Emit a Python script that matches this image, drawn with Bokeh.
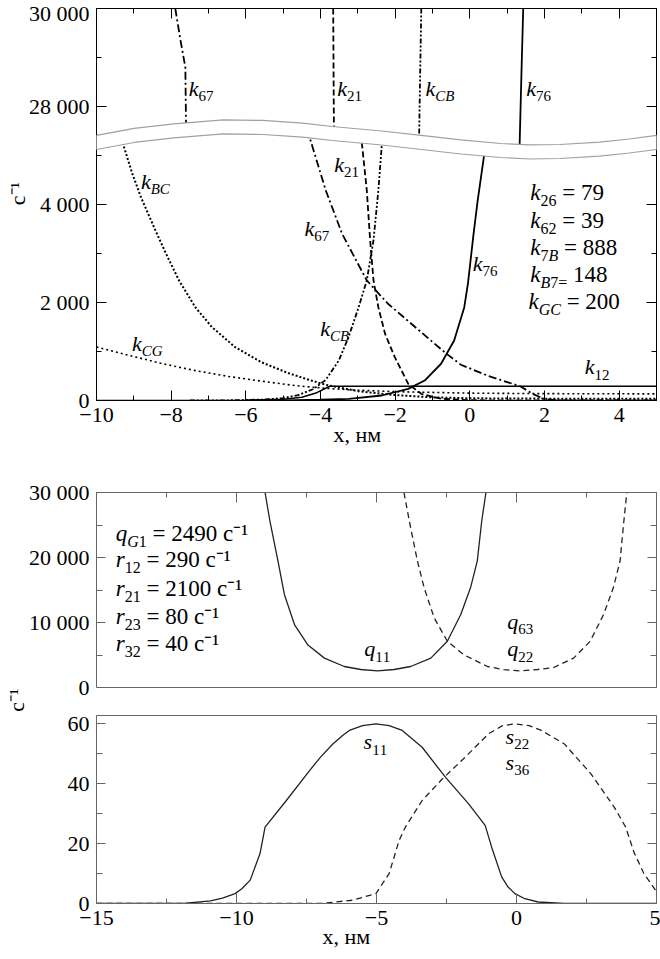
import numpy as np
from bokeh.plotting import figure
from bokeh.models import Range1d, LinearAxis, FixedTicker, Label, PolyAnnotation
from bokeh.layouts import column
from bokeh.embed import file_html
from bokeh.resources import INLINE

FONT = "Liberation Serif"
UPPER_SHIFT = 22000  # upper part of the broken axis: plotted value = value - 22000
NB = "\u00a0"

# ---------------- top panel data (x, nm ; rate, s^-1) ----------------
k67_up_x = [-7.89, -7.75, -7.62, -7.60]
k67_up_y = [30000, 29350, 28800, 27500]
k21_up_x = [-3.66, -3.65, -3.64]
k21_up_y = [30000, 28700, 27450]
kCB_up_x = [-1.30, -1.33, -1.36]
kCB_up_y = [30000, 28700, 27300]
k76_up_x = [1.43, 1.38, 1.33]
k76_up_y = [30000, 28600, 27100]

k67_x = [-4.36, -3.86, -3.42, -2.76, -2.2, -1.65, -1.1, -0.65, -0.24, 0.5, 1.35, 1.7, 2.0, 2.3, 5.0]
k67_y = [5540, 4290, 3400, 2450, 1980, 1620, 1260, 970, 730, 500, 290, 130, 30, 5, 0]
k21_x = [-2.92, -2.89, -2.76, -2.67, -2.58, -2.45, -2.27, -2.01, -1.65, -1.3, -0.77, 0.0, 5.0]
k21_y = [5450, 5240, 4290, 3270, 2450, 1900, 1360, 885, 340, 136, 35, 5, 0]
kCB_x = [-7.5, -6.5, -5.5, -5.0, -4.6, -4.2, -3.86, -3.51, -3.25, -2.98, -2.76, -2.58, -2.45, -2.36, -2.33]
kCB_y = [0, 3, 20, 50, 110, 230, 420, 816, 1290, 1900, 2450, 3270, 4290, 5200, 5450]
k76_x = [-6.0, -5.0, -4.0, -3.24, -2.36, -1.65, -1.21, -0.77, -0.42, -0.15, -0.05, 0.1, 0.21, 0.4, 0.43]
k76_y = [0, 3, 15, 35, 102, 238, 408, 750, 1225, 1900, 2390, 3400, 4080, 5100, 5180]
k12_x = [-10, -6, -5, -4.5, -4.1, -3.75, 5]
k12_y = [0, 5, 25, 68, 160, 290, 290]
kBC_x = [-9.35, -9.29, -9.05, -8.81, -8.41, -8.14, -7.79, -7.35, -6.91, -6.29, -5.58, -4.87,
         -4.3, -3.86, -3.0, -2.0, -1.0, 0.0, 2.0, 5.0]
kBC_y = [5420, 5240, 4650, 4150, 3450, 3000, 2450, 1900, 1500, 1090, 780, 560,
         420, 320, 190, 110, 65, 45, 38, 35]
kCG_x = [-10, -9.12, -8.23, -7.35, -6.46, -5.58, -4.69, -3.9, -3.0, -2.0, 0.0, 2.0, 5.0]
kCG_y = [1090, 920, 750, 610, 490, 395, 305, 250, 210, 180, 150, 140, 135]

# axis break (wavy white band), plotted units
break_x = [-10, -8.992, -7.931, -6.605, -5.544, -4.483, -3.687, -2.361, -1.300, -0.239,
           0.822, 1.618, 2.414, 3.475, 4.271, 5.0]
break_hi = [5409, 5552, 5647, 5729, 5715, 5660, 5592, 5500, 5409, 5317,
            5245, 5215, 5225, 5272, 5337, 5409]
BREAK_GAP = 286

top_y_ticks = [0, 2000, 4000, 6000, 8000]
top_y_labels = {0: "0", 2000: "2 000", 4000: "4 000", 6000: "28 000", 8000: "30 000"}
top_x_ticks = [-10, -8, -6, -4, -2, 0, 2, 4]
top_x_labels = {-10: "−10", -8: "−8", -6: "−6", -4: "−4", -2: "−2", 0: "0", 2: "2", 4: "4"}

# ---------------- middle panel data ----------------
q11_x = [-8.98, -8.81, -8.52, -8.29, -7.93, -7.46, -6.86, -6.15, -5.56, -4.96, -4.37,
         -3.78, -3.06, -2.47, -1.99, -1.64, -1.40, -1.24, -1.09]
q11_y = [30000, 25690, 19490, 14320, 9680, 6590, 4520, 3230, 2770, 2550, 2770,
         3230, 4520, 7110, 11230, 15370, 19490, 25690, 30000]
q22_x = [-4.02, -3.80, -3.54, -3.30, -2.94, -2.47, -1.88, -1.04, -0.45, 0.14, 0.75,
         1.33, 2.04, 2.63, 3.11, 3.46, 3.70, 3.82, 3.94]
q22_y = [30000, 25000, 19490, 15370, 10720, 7110, 5030, 3230, 2750, 2550, 2770,
         3080, 4520, 7110, 11230, 15370, 19490, 25000, 30000]
mid_y_ticks = [0, 10000, 20000, 30000]
mid_y_labels = {0: "0", 10000: "10 000", 20000: "20 000", 30000: "30 000"}

# ---------------- bottom panel data ----------------
s11_x = [-15, -11.88, -10.93, -10.5, -10.05, -9.8, -9.51, -9.16, -8.98, -8.22, -7.39, -7.0,
         -6.56, -6.2, -5.97, -5.5, -5.02, -4.55, -4.08, -3.37, -2.54, -1.71, -1.12, -0.89,
         -0.53, -0.3, -0.06, 0.3, 0.77, 1.7, 5]
s11_y = [0, 0, 0.9, 1.8, 3.3, 5.0, 7.8, 16.7, 25.5, 34.4, 44.4, 48.9,
         53.3, 56.2, 57.8, 59.4, 60, 59.4, 57.8, 52.2, 42.2, 33.3, 26.1, 18.9,
         8.9, 5.5, 3.3, 1.6, 0.5, 0, 0]
s22_x = [-15, -7.0, -5.85, -5.02, -4.55, -4.19, -3.97, -3.37, -2.66, -1.83, -1.0, -0.5,
         -0.06, 0.45, 0.89, 1.71, 2.66, 3.49, 3.9, 4.2, 4.55, 5.0]
s22_y = [0, 0, 1.1, 3.3, 10.0, 21.1, 25.5, 34.4, 41.5, 48.9, 56.7, 59.4,
         60, 59.4, 57.8, 53.3, 43.3, 32.2, 25.5, 17, 10, 4]
bot_y_ticks = [0, 20, 40, 60]
bot_x_ticks = [-15, -10, -5, 0, 5]
bot_x_labels = {-15: "−15", -10: "−10", -5: "−5", 0: "0", 5: "5"}

# ---------------- helpers ----------------
W = {"k": 0.444, "q": 0.5, "r": 0.389, "s": 0.389, "x": 0.444, "B": 0.611, "C": 0.667,
     "G": 0.722, "=": 0.564, " ": 0.25, ",": 0.25, "с": 0.444, "н": 0.52, "м": 0.62,
     "⁻": 0.35, "¹": 0.3}
BASE_FIX = 0.4  # empirical lift (em) so that the anchor acts as the text baseline


def tw(s, size):
    return sum(W.get(ch, 0.5) for ch in s) * size


def rich(p, x, y, pieces, size=22, sub_dy=-5):
    off = 0.0
    for text, kind, style in pieces:
        fs = size if kind == "n" else round(size * 0.7)
        dy = (sub_dy if kind == "sub" else 0) + BASE_FIX * fs
        lead = len(text) - len(text.lstrip(" "))
        off += tw(" " * lead, fs)
        body = text.lstrip(" ")
        p.add_layout(Label(x=x, y=y, x_offset=off, y_offset=dy, text=body,
                           text_font=FONT, text_font_size=f"{fs}px", text_font_style=style,
                           text_baseline="alphabetic", text_align="left", text_color="black"))
        off += tw(body, fs)


def klabel(p, x, y, main, sub, size=22):
    pieces = [(main, "n", "italic")]
    for ch in sub:
        pieces.append((ch, "sub", "normal" if ch.isdigit() else "italic"))
    rich(p, x, y, pieces, size)


def style_axis(ax, ticks, minor, labels=None, show=True, tin=10, min_in=5, color="black"):
    ax.ticker = FixedTicker(ticks=ticks, minor_ticks=minor)
    ax.major_tick_in = tin
    ax.major_tick_out = 0
    ax.minor_tick_in = min_in
    ax.minor_tick_out = 0
    ax.axis_line_color = color
    ax.major_tick_line_color = color
    ax.minor_tick_line_color = color
    if show:
        ax.major_label_text_font = FONT
        ax.major_label_text_font_size = "22px"
        ax.major_label_text_color = "black"
        ax.major_label_standoff = 7
        if labels:
            ax.major_label_overrides = labels
    else:
        ax.major_label_text_font_size = "0px"
        ax.major_label_standoff = 0
        ax.major_label_overrides = {t: "" for t in ticks}


def axis_title(ax, text, standoff):
    ax.axis_label = text
    ax.axis_label_text_font = FONT
    ax.axis_label_text_font_size = "22px"
    ax.axis_label_text_font_style = "normal"
    ax.axis_label_text_color = "black"
    ax.axis_label_standoff = standoff


def make_fig(h, xr, yr, top, bottom, left, right):
    p = figure(width=660, height=h, x_range=Range1d(*xr), y_range=Range1d(*yr),
               output_backend="svg", toolbar_location=None,
               min_border_top=top, min_border_bottom=bottom,
               min_border_left=left, min_border_right=right)
    p.xgrid.visible = False
    p.ygrid.visible = False
    p.outline_line_color = None
    p.background_fill_color = "white"
    p.border_fill_color = "white"
    return p


# ---------------- top figure ----------------
p1 = make_fig(460, (-10, 5), (0, 8000), 8, 60, 92, 2)
style_axis(p1.xaxis[0], top_x_ticks, [-9, -7, -5, -3, -1, 1, 3, 5], top_x_labels)
style_axis(p1.yaxis[0], top_y_ticks, [1000, 3000, 5000, 7000], top_y_labels)
axis_title(p1.xaxis[0], "x, нм" + NB * 7, -3)
axis_title(p1.yaxis[0], NB * 4 + "с⁻¹", -4)
ax_r = LinearAxis()
style_axis(ax_r, top_y_ticks, [1000, 3000, 5000, 7000], show=False)
p1.add_layout(ax_r, "right")
ax_t = LinearAxis()
style_axis(ax_t, top_x_ticks, [-9, -7, -5, -3, -1, 1, 3, 5], show=False)
p1.add_layout(ax_t, "above")

LW = 1.8
D_K67 = "8 3 2 3"
D_K21 = "6 3"
D_KCB = "5 2 2 2 2 2"
p1.line(k12_x, k12_y, line_color="black", line_width=1.5)
p1.line(kCG_x, kCG_y, line_color="black", line_width=1.6, line_dash="2 3")
p1.line(kBC_x, kBC_y, line_color="black", line_width=2.0, line_dash="2 2")
p1.line(k67_x, k67_y, line_color="black", line_width=LW, line_dash=D_K67)
p1.line(k21_x, k21_y, line_color="black", line_width=LW, line_dash=D_K21)
p1.line(kCB_x, kCB_y, line_color="black", line_width=LW, line_dash=D_KCB)
p1.line(k76_x, k76_y, line_color="black", line_width=LW)
p1.line(k67_up_x, [v - UPPER_SHIFT for v in k67_up_y], line_color="black", line_width=LW, line_dash=D_K67)
p1.line(k21_up_x, [v - UPPER_SHIFT for v in k21_up_y], line_color="black", line_width=LW, line_dash=D_K21)
p1.line(kCB_up_x, [v - UPPER_SHIFT for v in kCB_up_y], line_color="black", line_width=LW, line_dash=D_KCB)
p1.line(k76_up_x, [v - UPPER_SHIFT for v in k76_up_y], line_color="black", line_width=LW)

break_lo = [h - BREAK_GAP for h in break_hi]
band_xs = [break_x[0] - 0.15] + break_x + [break_x[-1] + 0.15]
band_xs = band_xs + band_xs[::-1]
band_ys = [break_hi[0]] + break_hi + [break_hi[-1]]
band_ys = band_ys + ([break_lo[-1]] + break_lo[::-1] + [break_lo[0]])
p1.add_layout(PolyAnnotation(xs=band_xs, ys=band_ys, fill_color="white", fill_alpha=1.0,
                             line_color=None, xs_units="data", ys_units="data"))
p1.line(break_x, break_hi, line_color="#a0a0a0", line_width=1.2, level="overlay")
p1.line(break_x, break_lo, line_color="#a0a0a0", line_width=1.2, level="overlay")

# curve labels (baseline-left anchors)
klabel(p1, -7.53, 28184 - UPPER_SHIFT, "k", "67")
klabel(p1, -3.55, 28184 - UPPER_SHIFT, "k", "21")
klabel(p1, -1.19, 28184 - UPPER_SHIFT, "k", "CB")
klabel(p1, 1.51, 28184 - UPPER_SHIFT, "k", "76")
klabel(p1, -3.63, 4633, "k", "21")
klabel(p1, -4.43, 3333, "k", "67")
klabel(p1, -4.01, 1292, "k", "CB")
klabel(p1, 0.08, 2619, "k", "76")
klabel(p1, -8.81, 4286, "k", "BC")
klabel(p1, -9.05, 986, "k", "CG")
klabel(p1, 3.08, 510, "k", "12")

blk = 23
rich(p1, 1.62, 4047, [("k", "n", "italic"), ("2", "sub", "normal"), ("6", "sub", "normal"), (" = 79", "n", "normal")], blk)
rich(p1, 1.62, 3490, [("k", "n", "italic"), ("6", "sub", "normal"), ("2", "sub", "normal"), (" = 39", "n", "normal")], blk)
rich(p1, 1.62, 2925, [("k", "n", "italic"), ("7", "sub", "normal"), ("B", "sub", "italic"), (" = 888", "n", "normal")], blk)
rich(p1, 1.62, 2382, [("k", "n", "italic"), ("B", "sub", "italic"), ("7=", "sub", "normal"), (" 148", "n", "normal")], blk)
rich(p1, 1.57, 1837, [("k", "n", "italic"), ("G", "sub", "italic"), ("C", "sub", "italic"), (" = 200", "n", "normal")], blk)

# ---------------- middle figure ----------------
GRAY = "#666666"
CURVE = "#222222"
p2 = make_fig(252, (-15, 5), (0, 30000), 32, 25, 90, 4)
style_axis(p2.yaxis[0], mid_y_ticks, [5000, 15000, 25000], mid_y_labels, color=GRAY, tin=9, min_in=6)
axis_title(p2.yaxis[0], "с⁻¹" + NB * 40, -3)
style_axis(p2.xaxis[0], [], [], show=False, tin=0, min_in=0, color=GRAY)
ax = LinearAxis()
style_axis(ax, mid_y_ticks, [5000, 15000, 25000], show=False, color=GRAY, tin=9, min_in=6)
p2.add_layout(ax, "right")
ax = LinearAxis()
style_axis(ax, bot_x_ticks, [-12.5, -7.5, -2.5, 2.5], show=False, color=GRAY, tin=10, min_in=5)
p2.add_layout(ax, "above")

p2.line(q11_x, q11_y, line_color=CURVE, line_width=1.3)
p2.line(q22_x, q22_y, line_color=CURVE, line_width=1.3, line_dash="6 4")

mblk = 23
rich(p2, -14.31, 22310, [("q", "n", "italic"), ("G", "sub", "italic"), ("1", "sub", "normal"), (" = 2490 с⁻¹", "n", "normal")], mblk)
rich(p2, -14.31, 18260, [("r", "n", "italic"), ("1", "sub", "normal"), ("2", "sub", "normal"), (" = 290 с⁻¹", "n", "normal")], mblk)
rich(p2, -14.31, 13850, [("r", "n", "italic"), ("2", "sub", "normal"), ("1", "sub", "normal"), (" = 2100 с⁻¹", "n", "normal")], mblk)
rich(p2, -14.31, 9490, [("r", "n", "italic"), ("2", "sub", "normal"), ("3", "sub", "normal"), (" = 80 с⁻¹", "n", "normal")], mblk)
rich(p2, -14.31, 5385, [("r", "n", "italic"), ("3", "sub", "normal"), ("2", "sub", "normal"), (" = 40 с⁻¹", "n", "normal")], mblk)
klabel(p2, -5.44, 4570, "q", "11")
klabel(p2, -0.33, 8770, "q", "63")
klabel(p2, -0.33, 4570, "q", "22")

# ---------------- bottom figure ----------------
p3 = make_fig(247, (-15, 5), (0, 62.8), 3, 56, 90, 4)
style_axis(p3.yaxis[0], bot_y_ticks, [10, 30, 50], {0: "0", 20: "20", 40: "40", 60: "60"}, color=GRAY, tin=9, min_in=6)
style_axis(p3.xaxis[0], bot_x_ticks, [-12.5, -7.5, -2.5, 2.5], bot_x_labels, color=GRAY, tin=10, min_in=5)
axis_title(p3.xaxis[0], "x, нм" + NB * 11, -4)
ax = LinearAxis()
style_axis(ax, bot_y_ticks, [10, 30, 50], show=False, color=GRAY, tin=9, min_in=6)
p3.add_layout(ax, "right")
ax = LinearAxis()
style_axis(ax, [], [], show=False, color=GRAY, tin=0, min_in=0)
p3.add_layout(ax, "above")

p3.line(s11_x, s11_y, line_color=CURVE, line_width=1.3)
p3.line(s22_x, s22_y, line_color=CURVE, line_width=1.3, line_dash="6 4")
klabel(p3, -5.46, 51.1, "s", "11")
klabel(p3, -0.39, 52.8, "s", "22")
klabel(p3, -0.39, 44.1, "s", "36")

layout = column(p1, p2, p3)
open("out.html", "w").write(file_html(layout, INLINE))
